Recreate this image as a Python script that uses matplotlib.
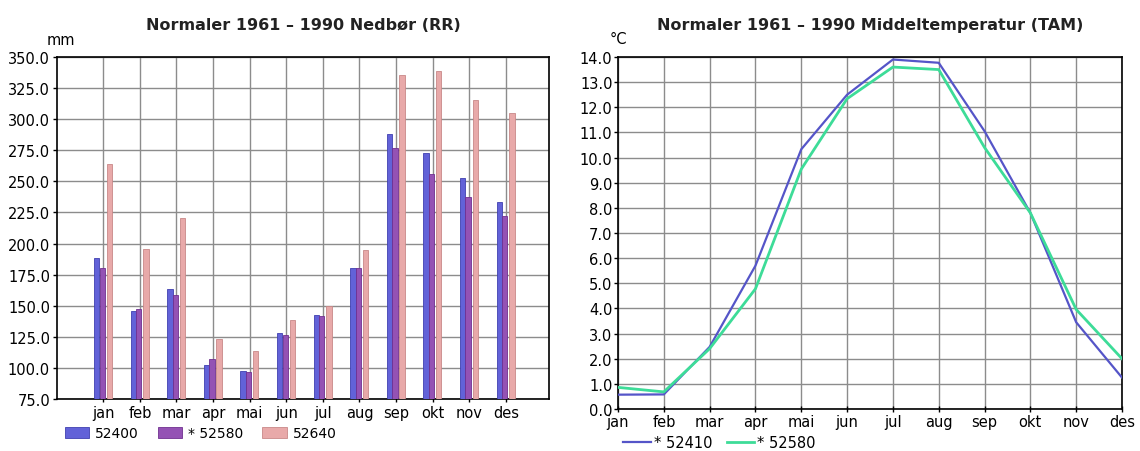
import matplotlib
matplotlib.use('Agg')
import matplotlib.pyplot as plt
import numpy as np
from matplotlib.patches import Patch
from matplotlib.lines import Line2D

months = ['jan', 'feb', 'mar', 'apr', 'mai', 'jun', 'jul', 'aug', 'sep', 'okt', 'nov', 'des']

# Nedbør (mm)
rr_52400 = [188.6, 145.7, 163.3, 102.7, 97.6, 127.7, 142.6, 180.0, 288.3, 272.5, 253.0, 233.8]
rr_52580 = [180.0, 147.6, 158.5, 107.4, 96.5, 126.6, 141.5, 180.0, 276.6, 256.3, 237.8, 221.8]
rr_52640 = [263.7, 196.0, 220.5, 123.1, 113.6, 138.8, 149.5, 195.2, 335.3, 339.0, 315.3, 304.6]
rr_labels = ['52400', '* 52580', '52640']

# Middeltemperatur (°C)
tam_52410 = [0.57, 0.58, 2.47, 5.7, 10.33, 12.5, 13.9, 13.77, 11.05, 7.8, 3.45, 1.25]
tam_52580 = [0.86, 0.68, 2.4, 4.78, 9.54, 12.34, 13.6, 13.5, 10.4, 7.8, 3.96, 2.0]
tam_labels = ['* 52410', '* 52580']

plt.rcParams['font.family'] = ['DejaVu Sans']
fig = plt.figure(figsize=(11.4, 4.52), dpi=100)

W, H = 1140, 452
def box(l, t, r, b):
    return [l / W, (H - b) / H, (r - l) / W, (b - t) / H]

grid_kw = dict(color='#8c8c8c', linewidth=1.0)
fs = 10.5
title_kw = dict(fontsize=11.5, fontweight='bold', color='#222222', pad=20)

# ---- left: bar chart ----
ax1 = fig.add_axes(box(57, 58, 549, 400))
x = np.arange(len(months))
bar_colors = ['#6262d8', '#9452b4', '#e8a9a9']
edge_colors = ['#4040b0', '#703090', '#c88888']
offsets = [-0.18, -0.03, 0.165]
width = 0.145
for vals, off, c, ec in zip([rr_52400, rr_52580, rr_52640], offsets, bar_colors, edge_colors):
    ax1.bar(x + off, np.array(vals) - 75, width=width, bottom=75, color=c,
            edgecolor=ec, linewidth=0.6, zorder=3)
ax1.set_xlim(-1.265, 12.18)
ax1.set_ylim(75, 350)
ax1.set_yticks(np.arange(75, 351, 25))
ax1.set_yticklabels([f'{v:.1f}' for v in np.arange(75, 351, 25)])
ax1.set_xticks(x)
ax1.set_xticklabels(months)
ax1.grid(True, **grid_kw, zorder=0)
ax1.set_axisbelow(True)
ax1.tick_params(axis='both', labelsize=fs, length=3, width=1, pad=2)
ax1.tick_params(axis='x', direction='inout', length=5)
for s in ax1.spines.values():
    s.set_linewidth(1.2)
ax1.set_title('Normaler 1961 \u2013 1990 Nedb\u00f8r (RR)', **title_kw)
ax1.text(0.008, 1.03, 'mm', transform=ax1.transAxes, fontsize=fs, ha='center', va='bottom')
handles1 = [Patch(facecolor=c, edgecolor=ec, linewidth=0.6) for c, ec in zip(bar_colors, edge_colors)]
ax1.legend(handles1, rr_labels, loc='upper left', bbox_to_anchor=(0.016, -0.08), ncol=3,
           frameon=False, fontsize=10, handlelength=1.75, handleheight=0.9,
           handletextpad=0.45, columnspacing=1.35, borderaxespad=0, borderpad=0)

# ---- right: line chart ----
ax2 = fig.add_axes(box(618, 58, 1122, 410))
ax2.plot(x, tam_52410, color='#5555c8', linewidth=1.6, zorder=3)
ax2.plot(x, tam_52580, color='#3ddc98', linewidth=2.0, zorder=3)
ax2.set_xlim(0, 11)
ax2.set_ylim(0, 14)
ax2.set_yticks(np.arange(0, 15, 1))
ax2.set_yticklabels([f'{v:.1f}' for v in np.arange(0, 15, 1)])
ax2.set_xticks(x)
ax2.set_xticklabels(months)
ax2.grid(True, **grid_kw, zorder=0)
ax2.set_axisbelow(True)
ax2.tick_params(axis='both', labelsize=fs, length=3, width=1, pad=1)
ax2.tick_params(axis='x', direction='inout', length=5)
for s in ax2.spines.values():
    s.set_linewidth(1.2)
ax2.set_title('Normaler 1961 \u2013 1990 Middeltemperatur (TAM)', **title_kw)
ax2.text(0.0, 1.03, '\u00b0C', transform=ax2.transAxes, fontsize=fs, ha='center', va='bottom')
handles2 = [Line2D([], [], color='#5555c8', linewidth=1.6),
            Line2D([], [], color='#3ddc98', linewidth=2.0)]
ax2.legend(handles2, tam_labels, loc='upper left', bbox_to_anchor=(0.01, -0.075), ncol=2,
           frameon=False, fontsize=fs, handlelength=1.9, handletextpad=0.2,
           columnspacing=1.0, borderaxespad=0, borderpad=0)

fig.savefig('out.png', dpi=100)
